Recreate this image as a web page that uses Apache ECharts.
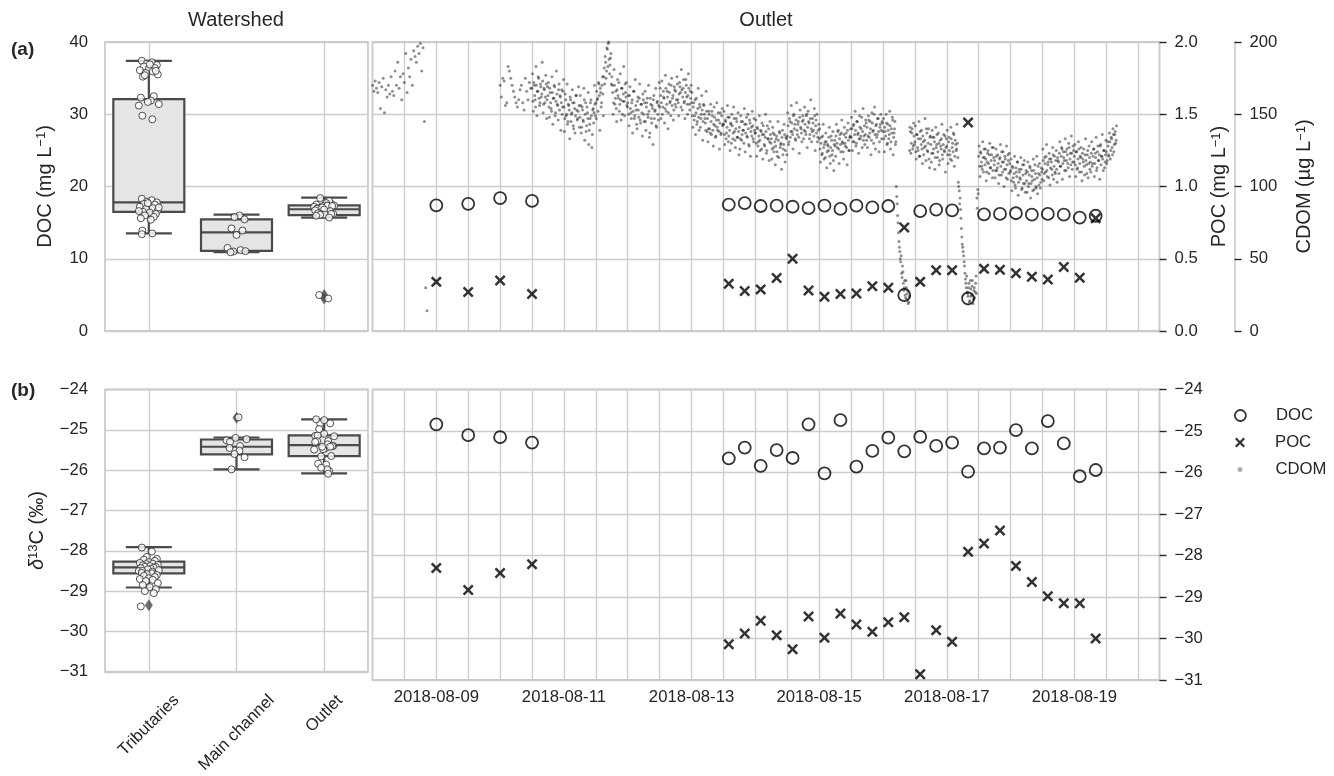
<!DOCTYPE html>
<html><head><meta charset="utf-8">
<script src="https://cdn.jsdelivr.net/npm/echarts@6/dist/echarts.min.js"></script>
<style>html,body{margin:0;padding:0;background:#fff}#c{width:1334px;height:776px}</style>
</head><body><div id="c"></div>
<script>
// ---------------- DATA ----------------
const categories = ['Tributaries', 'Main channel', 'Outlet'];
const dateTicks = ['2018-08-09', '2018-08-11', '2018-08-13', '2018-08-15', '2018-08-17', '2018-08-19'];

// box statistics [min, Q1, median, Q3, max]
const docBoxStats = [[13.5, 16.5, 17.8, 32.1, 37.4], [10.9, 11.1, 13.65, 15.45, 16.1], [15.7, 16.05, 16.85, 17.4, 18.45]];
const d13cBoxStats = [[-28.91, -28.56, -28.41, -28.27, -27.91], [-25.98, -25.61, -25.42, -25.24, -25.19], [-26.08, -25.65, -25.38, -25.14, -24.74]];
const docFliers = [[2, 4.5], [2, 4.98]];
const d13cFliers = [[0, -29.35], [1, -24.70]];

// watershed samples
const docTrib = [37.4, 37.2, 37.0, 36.8, 36.6, 36.4, 36.3, 36.1, 35.9, 35.7, 35.5, 35.2, 36.9, 36.0, 35.4, 32.5, 32.3, 31.9, 31.7, 31.4, 31.2, 29.8, 29.3, 18.3, 18.1, 17.9, 17.8, 17.6, 17.5, 17.3, 17.2, 17.0, 16.9, 16.7, 16.5, 16.4, 16.2, 16.0, 15.8, 15.6, 15.4, 17.7, 17.1, 16.6, 13.9, 13.5, 13.4];
const docMain = [16.0, 15.75, 15.45, 14.2, 13.9, 13.3, 11.5, 11.2, 11.0, 11.05, 10.9];
const d13cTrib = [-27.92, -28.02, -28.15, -28.2, -28.22, -28.25, -28.28, -28.3, -28.32, -28.33, -28.35, -28.36, -28.38, -28.4, -28.4, -28.42, -28.43, -28.45, -28.46, -28.48, -28.5, -28.5, -28.52, -28.55, -28.56, -28.58, -28.6, -28.62, -28.65, -28.68, -28.7, -28.72, -28.75, -28.8, -28.85, -28.9, -28.95, -29.0, -29.05, -29.38];
const d13cMain = [-24.69, -25.20, -25.23, -25.26, -25.30, -25.40, -25.45, -25.52, -25.60, -25.68, -25.98];

// outlet time series
const sampleTimes = ['2018-08-09 00:00', '2018-08-09 12:00', '2018-08-10 00:00', '2018-08-10 12:00',
  '2018-08-13 14:00', '2018-08-13 20:00', '2018-08-14 02:00', '2018-08-14 08:00', '2018-08-14 14:00', '2018-08-14 20:00',
  '2018-08-15 02:00', '2018-08-15 08:00', '2018-08-15 14:00', '2018-08-15 20:00', '2018-08-16 02:00', '2018-08-16 08:00',
  '2018-08-16 14:00', '2018-08-16 20:00', '2018-08-17 02:00', '2018-08-17 08:00', '2018-08-17 14:00', '2018-08-17 20:00',
  '2018-08-18 02:00', '2018-08-18 08:00', '2018-08-18 14:00', '2018-08-18 20:00', '2018-08-19 02:00', '2018-08-19 08:00'];
const docConc = [17.4, 17.6, 18.4, 18.0, 17.5, 17.7, 17.3, 17.35, 17.2, 17.0, 17.35, 16.9, 17.35, 17.1, 17.3, 4.98, 16.6, 16.8, 16.7, 4.5, 16.15, 16.2, 16.3, 16.1, 16.2, 16.1, 15.7, 15.95];
const pocConc = [0.34, 0.27, 0.35, 0.256, 0.327, 0.277, 0.288, 0.366, 0.50, 0.28, 0.237, 0.256, 0.26, 0.31, 0.30, 0.717, 0.34, 0.42, 0.42, 1.443, 0.43, 0.424, 0.40, 0.376, 0.357, 0.443, 0.369, 0.78];
const docD13C = [-24.84, -25.10, -25.15, -25.28, -25.66, -25.40, -25.84, -25.46, -25.65, -24.84, -26.02, -24.74, -25.86, -25.48, -25.16, -25.49, -25.14, -25.36, -25.28, -25.98, -25.42, -25.40, -24.98, -25.42, -24.76, -25.30, -26.09, -25.94];
const pocD13C = [-28.30, -28.83, -28.42, -28.21, -30.14, -29.88, -29.57, -29.92, -30.26, -29.47, -29.98, -29.40, -29.66, -29.84, -29.61, -29.49, -30.86, -29.80, -30.08, -27.91, -27.71, -27.40, -28.25, -28.64, -28.98, -29.15, -29.15, -30.00];

// CDOM sensor record (µg/L), regular sampling from a start time
const cdomStartA = '2018-08-08 00:00', cdomStepA = 30;
const cdomA = [170,166,173,168,165,172,154,169,175,151,167,162,170,164,176,166,163,180,170,186,168,176,160,178,172,192,165,182,176,188,170,194,190,186,197,192,199,180,196,145,30,14];
const cdomStartB = '2018-08-10 00:00', cdomStepB = 30;
const cdomB = [170,162,175,173,156,158,183,180,175,170,166,162,158,155,160,167,170,158,153,175,166,160,172,168];
const cdomStartC = '2018-08-10 12:00', cdomStepC = 20;
const cdomC = [
168,159,172,163,155,170,166,176,161,158,169,164,173,157,167,162,171,160,
163,155,168,158,152,165,161,170,149,159,164,156,167,153,162,158,150,166,
155,147,160,150,143,157,153,162,145,151,158,140,154,149,163,146,152,156,
148,156,141,153,145,160,150,138,155,147,129,143,158,149,136,154,151,157,
158,166,161,172,163,168,155,170,164,176,171,186,180,195,199,188,184,192,
176,165,158,170,161,154,167,163,172,157,160,168,150,164,159,171,162,156,
158,150,163,154,147,160,152,166,149,156,143,159,153,161,146,157,151,164,
150,158,145,155,161,148,152,137,157,144,154,160,147,153,142,158,150,156,
155,163,158,150,166,161,154,168,157,162,151,165,159,170,156,163,153,167,
166,160,171,158,164,169,155,167,162,174,159,165,170,157,163,168,153,161,
158,149,155,146,160,151,143,154,148,157,141,150,153,145,156,147,139,152,
147,140,150,137,145,152,139,143,148,134,146,141,151,138,144,136,149,142,
143,136,146,133,141,148,135,139,144,130,142,137,147,132,140,145,134,138,
141,133,145,136,139,130,143,137,148,134,140,128,144,138,135,142,131,139,
137,130,141,128,135,132,139,126,136,142,129,134,138,125,133,140,131,136,
133,126,137,124,131,128,135,121,132,138,127,130,134,122,129,136,125,133,
135,142,131,145,138,144,136,149,140,133,146,139,143,134,148,141,137,145,
146,139,143,136,150,141,145,133,147,140,138,144,135,149,142,137,131,139,
133,126,130,122,135,127,129,120,131,124,128,134,121,127,132,125,118,129,
128,135,130,138,126,133,129,137,131,124,136,130,134,127,139,132,125,135,
134,140,131,143,136,139,130,145,137,133,141,135,148,138,132,142,136,144,
141,135,146,137,140,132,144,139,150,136,142,134,147,138,131,143,139,145,
138,133,141,135,144,130,139,136,142,131,137,146,134,140,129,100,88,75,
62,55,48,40,45,33,30,25,35,22,28,20,125,138,130,140,128,135,
131,124,136,127,133,121,138,129,126,135,122,132,128,140,125,130,119,134,
129,123,134,126,131,120,127,136,124,130,118,128,133,122,129,125,135,127,
128,122,131,125,119,133,127,124,136,121,129,126,130,103,97,92,78,65,
58,52,45,36,30,27,24,33,21,29,25,35,22,30,27,38,92,98,
121,114,124,117,112,120,126,115,119,110,123,116,122,113,118,127,111,120,
118,111,121,113,116,108,120,114,124,110,117,112,119,106,115,122,109,116,
111,104,114,106,109,101,113,107,117,103,110,105,112,99,108,115,102,109,
104,110,100,108,113,102,107,97,111,105,109,99,106,114,101,108,103,110,
112,118,109,116,121,111,115,106,119,113,117,108,122,114,110,118,112,120,
117,123,114,121,126,116,120,111,124,118,122,113,127,119,115,123,117,125,
121,115,124,112,119,126,116,120,110,123,117,114,122,118,109,125,116,120,
117,123,114,121,126,116,120,111,124,118,122,128,115,121,119,125,113,122,
124,118,128,121,131,125,133,122,136,129,138,132];
// interleaved readings, 10 min after each cdomC reading
const cdomStartD = '2018-08-10 12:10', cdomStepD = 20;
const cdomD = [
178,152,170,160,183,149,166,175,156,171,162,186,151,168,158,177,147,169,
172,148,165,154,176,143,161,169,151,180,157,146,171,163,139,167,155,174,
138,164,149,171,145,156,133,160,150,167,142,158,137,163,153,147,169,141,
163,137,155,146,168,132,158,142,151,165,139,147,160,127,153,144,170,149,
147,160,152,171,139,165,158,176,149,182,190,175,196,183,200,178,189,171,
170,150,181,157,166,145,174,161,152,178,146,168,159,183,149,165,172,155,
163,142,169,151,158,137,166,147,174,153,140,162,148,171,144,157,135,160,
145,166,139,158,150,170,134,161,147,156,129,163,152,168,141,159,146,172,
168,147,173,155,162,144,177,152,166,140,171,158,149,175,161,146,169,157,
155,176,160,149,172,165,181,153,168,158,147,174,162,150,178,157,166,170,
165,141,158,149,136,161,145,168,139,155,147,163,132,157,150,144,166,138,
131,152,140,157,136,149,128,155,142,135,158,139,146,126,151,137,154,143,
152,129,145,137,156,131,148,125,143,150,133,155,138,127,147,134,151,122,
126,149,132,145,139,154,124,143,135,150,129,146,121,141,152,133,147,137,
146,121,140,131,149,125,138,144,119,136,128,150,123,142,133,118,145,130,
119,141,127,136,115,133,124,145,120,137,129,112,139,126,143,117,134,122,
151,129,147,134,156,138,126,150,143,132,158,136,145,123,153,140,131,149,
133,155,138,149,127,152,144,136,160,131,147,139,154,125,146,150,134,143,
140,117,134,123,143,119,131,137,113,129,125,141,116,135,122,138,111,132,
121,143,127,139,116,136,124,146,130,119,141,128,137,115,144,125,134,140,
148,125,142,131,152,128,145,136,123,149,133,140,127,154,135,129,146,132,
127,149,134,145,122,151,138,130,155,126,143,136,147,124,141,150,133,144,
147,124,138,150,129,143,133,152,126,140,148,122,137,145,131,93,80,68,
58,50,52,37,41,28,35,23,30,26,19,24,141,123,137,126,144,129,
142,119,136,125,145,121,133,139,116,131,127,147,118,137,124,140,113,135,
117,139,123,134,112,141,129,120,137,115,132,126,143,119,136,124,110,133,
139,116,134,122,141,118,130,137,114,132,125,143,120,100,88,84,71,60,
55,48,40,33,38,26,30,20,35,24,31,19,28,23,33,26,85,95,
128,107,123,114,131,110,120,126,104,117,125,109,130,113,122,106,127,115,
106,126,111,122,102,119,129,108,117,124,100,121,112,128,105,118,123,110,
119,97,113,103,121,99,110,117,94,112,106,120,98,115,102,118,96,111,
96,117,102,114,92,111,104,119,98,115,100,121,95,109,116,99,113,105,
126,104,120,110,129,107,117,123,101,119,112,127,105,121,109,125,103,118,
109,131,114,127,105,124,118,133,111,126,116,130,107,123,135,112,128,117,
129,107,124,113,131,110,121,127,104,119,126,108,133,115,122,106,128,112,
110,131,116,126,107,123,134,113,128,118,105,129,121,136,111,125,117,132,
116,131,122,137,119,134,127,140,124,136,130,142];

const xRange = ['2018-08-08 00:00', '2018-08-20 08:00'];

// ---------------- STYLE / BUILD ----------------
const FONT = 'Liberation Sans, Arial, sans-serif';
const TXT = '#262626';
const GRID = '#cccccc';
const BOXLINE = '#4a4a4a';
const jitterPx = [-7, 3, -2, 8, -5, 6, 0, -9, 4, -3, 9, -6, 1, 7, -4, 5, -8, 2, -1, 10, -10, -6.5, 3.5];
const X_PATH = 'path://M0,1.6L1.6,0L5,3.4L8.4,0L10,1.6L6.6,5L10,8.4L8.4,10L5,6.6L1.6,10L0,8.4L3.4,5Z';

function ts(s) {
  const [d, h] = s.split(' ');
  const [Y, M, D] = d.split('-').map(Number);
  const [hh, mm] = h.split(':').map(Number);
  return Date.UTC(Y, M - 1, D, hh, mm);
}
function seq(start, stepMin, arr) {
  const t0 = ts(start);
  return arr.map((v, i) => [t0 + i * stepMin * 60000, v]);
}
function strip(groups) {
  const out = []; let k = 0;
  groups.forEach((arr, ci) => arr.forEach(v => {
    out.push({ value: [ci, v], symbolOffset: [jitterPx[k++ % jitterPx.length], 0] });
  }));
  return out;
}
const pad2 = n => String(n).padStart(2, '0');
function dateLabel(v) {
  const d = new Date(v);
  if (d.getUTCHours() !== 0 || d.getUTCMinutes() !== 0) return '';
  const s = d.getUTCFullYear() + '-' + pad2(d.getUTCMonth() + 1) + '-' + pad2(d.getUTCDate());
  return dateTicks.indexOf(s) >= 0 ? s : '';
}
const minus = v => String(v).replace('-', '\u2212');

const cdomData = seq(cdomStartA, cdomStepA, cdomA).concat(
  seq(cdomStartB, cdomStepB, cdomB), seq(cdomStartC, cdomStepC, cdomC), seq(cdomStartD, cdomStepD, cdomD));
const tsData = vals => sampleTimes.map((t, i) => [ts(t), vals[i]]);
const boxData = stats => stats.map((s, i) => [i].concat(s));

const xMin = ts(xRange[0]), xMax = ts(xRange[1]);
const HALF_DAY = 12 * 3600 * 1000;

// box drawn with the axis scales (cap half width smaller than box half width, as seaborn)
function boxRender(params, api) {
  const ci = api.value(0);
  const p = k => api.coord([ci, api.value(k)]);
  const pMin = p(1), pQ1 = p(2), pMed = p(3), pQ3 = p(4), pMax = p(5);
  const x = pMin[0], hw = 35.5, cw = 23;
  const ls = { stroke: BOXLINE, lineWidth: 2.2 };
  return { type: 'group', children: [
    { type: 'line', shape: { x1: x, y1: pQ3[1], x2: x, y2: pMax[1] }, style: ls },
    { type: 'line', shape: { x1: x, y1: pQ1[1], x2: x, y2: pMin[1] }, style: ls },
    { type: 'line', shape: { x1: x - cw, y1: pMax[1], x2: x + cw, y2: pMax[1] }, style: ls },
    { type: 'line', shape: { x1: x - cw, y1: pMin[1], x2: x + cw, y2: pMin[1] }, style: ls },
    { type: 'rect', shape: { x: x - hw, y: pQ3[1], width: 2 * hw, height: pQ1[1] - pQ3[1] }, style: { fill: '#e5e5e5', stroke: BOXLINE, lineWidth: 2.2 } },
    { type: 'line', shape: { x1: x - hw, y1: pMed[1], x2: x + hw, y2: pMed[1] }, style: ls }
  ] };
}

const tick = { fontFamily: FONT, fontSize: 16.7, color: TXT };
const nameStyle = { fontFamily: FONT, fontSize: 20, color: TXT,
  rich: { s: { fontFamily: FONT, fontSize: 13, color: TXT, verticalAlign: 'top', padding: [0, 0, 6, 0] },
          i: { fontFamily: FONT, fontSize: 20, color: TXT, fontStyle: 'italic' } } };
const split = { show: true, lineStyle: { color: GRID, width: 1.3 } };
const rightTick = { show: true, length: 7, lineStyle: { color: TXT, width: 1.4 } };

const grids = [
  { left: 105, top: 42, width: 263, height: 289 },
  { left: 372.5, top: 42, width: 787, height: 289 },
  { left: 105, top: 389.5, width: 263, height: 290.5 },
  { left: 372.5, top: 389.5, width: 787, height: 290.5 }
].map(g => Object.assign(g, { show: true, borderColor: GRID, borderWidth: 1.8, backgroundColor: 'transparent' }));

const catAxis = (gi, showLabel) => ({
  type: 'category', gridIndex: gi, data: categories, boundaryGap: true,
  axisLine: { show: false }, axisTick: { show: false },
  splitLine: Object.assign({ alignWithLabel: true }, split),
  axisLabel: showLabel ? {
    show: true, interval: 0, rotate: 45, align: 'center', verticalAlign: 'middle', margin: 61,
    formatter: (v, i) => '{r' + i + '|' + v + '}',
    rich: {
      r0: { fontFamily: FONT, fontSize: 16.7, color: TXT, padding: [0, 0, 10.5, 10.5] },
      r1: { fontFamily: FONT, fontSize: 16.7, color: TXT },
      r2: { fontFamily: FONT, fontSize: 16.7, color: TXT, padding: [0, 0, 27, 27] }
    }
  } : { show: false }
});
const timeAxis = (gi, showLabel) => ({
  type: 'value', gridIndex: gi, min: xMin, max: xMax, interval: HALF_DAY,
  axisLine: { show: false }, axisTick: { show: false }, splitLine: split,
  axisLabel: showLabel ? Object.assign({ formatter: dateLabel, margin: 9 }, tick) : { show: false }
});

const option = {
  animation: false,
  backgroundColor: '#fff',
  title: [
    { text: 'Watershed', left: 231, top: 5, textAlign: 'center', textStyle: { fontFamily: FONT, fontSize: 20, fontWeight: 'normal', color: TXT } },
    { text: 'Outlet', left: 761, top: 5, textAlign: 'center', textStyle: { fontFamily: FONT, fontSize: 20, fontWeight: 'normal', color: TXT } },
    { text: '(a)', left: 6, top: 35, textStyle: { fontFamily: FONT, fontSize: 19, fontWeight: 'bold', color: TXT } },
    { text: '(b)', left: 6, top: 376, textStyle: { fontFamily: FONT, fontSize: 19, fontWeight: 'bold', color: TXT } }
  ],
  legend: [
    { data: [{ name: 'DOC', icon: 'circle', itemStyle: { color: 'rgba(0,0,0,0)', borderColor: '#000', borderWidth: 1.8 } }],
      left: 1229, top: 402, itemWidth: 11, itemHeight: 11, selectedMode: false,
      textStyle: { fontFamily: FONT, fontSize: 16.7, color: TXT, padding: [0, 0, 0, 25] } },
    { data: [{ name: 'POC', icon: X_PATH, itemStyle: { color: '#000' } }],
      left: 1230, top: 429, itemWidth: 10, itemHeight: 10, selectedMode: false,
      textStyle: { fontFamily: FONT, fontSize: 16.7, color: TXT, padding: [0, 0, 0, 25] } },
    { data: [{ name: 'CDOM', icon: 'circle', itemStyle: { color: '#9a9a9a' } }],
      left: 1232.5, top: 456, itemWidth: 5, itemHeight: 5, selectedMode: false,
      textStyle: { fontFamily: FONT, fontSize: 16.7, color: TXT, padding: [0, 0, 0, 28] } }
  ],
  grid: grids,
  xAxis: [catAxis(0, false), timeAxis(1, false), catAxis(2, true), timeAxis(3, true)],
  yAxis: [
    { type: 'value', gridIndex: 0, min: 0, max: 40, interval: 10,
      name: 'DOC (mg L{s|\u22121})', nameLocation: 'middle', nameGap: 50, nameTextStyle: nameStyle,
      axisLine: { show: false }, axisTick: { show: false }, splitLine: split,
      axisLabel: Object.assign({ margin: 17 }, tick) },
    { type: 'value', gridIndex: 1, min: 0, max: 40, interval: 10,
      axisLine: { show: false }, axisTick: { show: false }, splitLine: split, axisLabel: { show: false } },
    { type: 'value', gridIndex: 1, position: 'right', min: 0, max: 2, interval: 0.5,
      name: 'POC (mg L{s|\u22121})', nameLocation: 'middle', nameGap: 50, nameRotate: 90, nameTextStyle: nameStyle,
      axisLine: { show: false }, axisTick: rightTick, splitLine: { show: false },
      axisLabel: Object.assign({ margin: 15, formatter: v => v.toFixed(1) }, tick) },
    { type: 'value', gridIndex: 1, position: 'right', offset: 75, min: 0, max: 200, interval: 50,
      name: 'CDOM (\u00b5g L{s|\u22121})', nameLocation: 'middle', nameGap: 60, nameRotate: 90, nameTextStyle: nameStyle,
      axisLine: { show: true, lineStyle: { color: GRID, width: 1.6 } }, axisTick: rightTick, splitLine: { show: false },
      axisLabel: Object.assign({ margin: 15 }, tick) },
    { type: 'value', gridIndex: 2, min: -31, max: -24, interval: 1,
      name: '{i|\u03b4}{s|13}C (\u2030)', nameLocation: 'middle', nameGap: 58, nameTextStyle: nameStyle,
      axisLine: { show: false }, axisTick: { show: false }, splitLine: split,
      axisLabel: Object.assign({ margin: 17, formatter: minus }, tick) },
    { type: 'value', gridIndex: 3, position: 'right', min: -31, max: -24, interval: 1,
      axisLine: { show: false }, axisTick: rightTick, splitLine: split,
      axisLabel: Object.assign({ margin: 15, formatter: minus }, tick) }
  ],
  series: [
    // ---- top-left: DOC boxplots
    { type: 'custom', xAxisIndex: 0, yAxisIndex: 0, data: boxData(docBoxStats), renderItem: boxRender, silent: true, z: 2,
      encode: { x: 0, y: [1, 2, 3, 4, 5] } },
    { type: 'scatter', xAxisIndex: 0, yAxisIndex: 0, data: docFliers, symbol: 'diamond', symbolSize: [8, 12], silent: true, z: 3,
      itemStyle: { color: BOXLINE } },
    { type: 'scatter', xAxisIndex: 0, yAxisIndex: 0, data: strip([docTrib, docMain, docConc]), symbol: 'circle', symbolSize: 7, silent: true, z: 4,
      itemStyle: { color: '#fff', borderColor: '#262626', borderWidth: 1 } },
    // ---- top-right
    { name: 'CDOM', type: 'scatter', xAxisIndex: 1, yAxisIndex: 3, data: cdomData, symbol: 'circle', symbolSize: 3, silent: true, z: 2,
      itemStyle: { color: 'rgba(20,20,20,0.6)' } },
    { name: 'DOC', type: 'scatter', xAxisIndex: 1, yAxisIndex: 1, data: tsData(docConc), symbol: 'circle', symbolSize: 12, silent: true, z: 4,
      itemStyle: { color: 'rgba(0,0,0,0)', borderColor: '#000', borderWidth: 1.8 } },
    { name: 'POC', type: 'scatter', xAxisIndex: 1, yAxisIndex: 2, data: tsData(pocConc), symbol: X_PATH, symbolSize: 11, silent: true, z: 5,
      itemStyle: { color: '#000' } },
    // ---- bottom-left: d13C boxplots
    { type: 'custom', xAxisIndex: 2, yAxisIndex: 4, data: boxData(d13cBoxStats), renderItem: boxRender, silent: true, z: 2,
      encode: { x: 0, y: [1, 2, 3, 4, 5] } },
    { type: 'scatter', xAxisIndex: 2, yAxisIndex: 4, data: d13cFliers, symbol: 'diamond', symbolSize: [8, 12], silent: true, z: 3,
      itemStyle: { color: BOXLINE } },
    { type: 'scatter', xAxisIndex: 2, yAxisIndex: 4, data: strip([d13cTrib, d13cMain, docD13C]), symbol: 'circle', symbolSize: 7, silent: true, z: 4,
      itemStyle: { color: '#fff', borderColor: '#262626', borderWidth: 1 } },
    // ---- bottom-right
    { name: 'DOC', type: 'scatter', xAxisIndex: 3, yAxisIndex: 5, data: tsData(docD13C), symbol: 'circle', symbolSize: 12, silent: true, z: 4,
      itemStyle: { color: 'rgba(0,0,0,0)', borderColor: '#000', borderWidth: 1.8 } },
    { name: 'POC', type: 'scatter', xAxisIndex: 3, yAxisIndex: 5, data: tsData(pocD13C), symbol: X_PATH, symbolSize: 11, silent: true, z: 5,
      itemStyle: { color: '#000' } }
  ]
};
const chart = echarts.init(document.getElementById('c'), null, { renderer: 'canvas' });
chart.setOption(option);
</script></body></html>
